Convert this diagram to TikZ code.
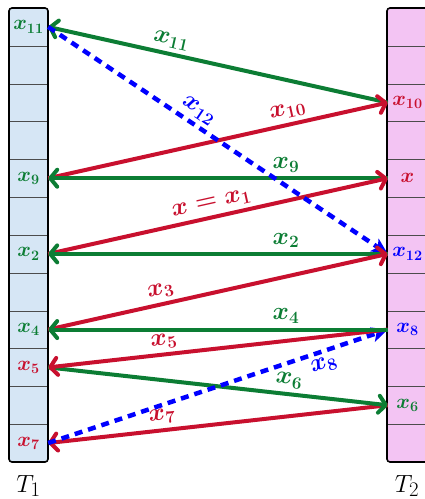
\documentclass[tikz,border=0pt]{standalone}
\usepackage{amsmath}
\usetikzlibrary{arrows.meta}
\definecolor{mygreen}{RGB}{12,125,52}
\definecolor{myred}{RGB}{200,16,46}
\definecolor{myblue}{RGB}{0,0,255}
\definecolor{fillA}{RGB}{214,230,245}
\definecolor{fillB}{RGB}{243,196,243}
\tikzset{
  cellnode/.style={minimum width=39pt,minimum height=37.83pt,inner sep=0pt,font=\fontsize{22}{24}\selectfont\boldmath},
  lbl/.style={font=\fontsize{23}{25}\selectfont\boldmath,inner sep=1pt,sloped},
  garrow/.style={draw=mygreen,line width=4pt,-{Straight Barb[length=7pt,width=17pt,line cap=round,line join=round]}},
  rarrow/.style={draw=myred,line width=4pt,-{Straight Barb[length=7pt,width=17pt,line cap=round,line join=round]}},
  barrow/.style={draw=myblue,line width=4.5pt,dash pattern=on 8pt off 6pt,-{Stealth[length=16pt,width=15pt,inset=4pt]}},
  rowline/.style={draw=black!70,line width=1.1pt},
  boxline/.style={draw=black,line width=1.6pt,rounded corners=3pt},
}
\begin{document}
\begin{tikzpicture}[x=1pt,y=-1pt]
\useasboundingbox (0,0) rectangle (424,499);
% table boxes
\fill[fillA,rounded corners=3pt] (9,8) rectangle (48,462);
\fill[fillB,rounded corners=3pt] (387,8) rectangle (428,462);
\foreach \i in {1,...,11}{
  \pgfmathsetmacro{\yy}{round(8+37.83*\i)+0.5}
  \draw[rowline] (9,\yy) -- (48,\yy);
  \draw[rowline] (387,\yy) -- (428,\yy);
}
\draw[boxline] (9,8) rectangle (48,462);
\draw[boxline] (387,8) rectangle (428,462);
% cells
\foreach \i in {0,...,11}{
  \node[cellnode] (a\i) at (28.5,8+37.83*\i+18.915) {};
  \node[cellnode] (b\i) at (407.5,8+37.83*\i+18.915) {};
}
\node[cellnode,text=mygreen] at (a0) {$x_{11}$};
\node[cellnode,text=mygreen] at (a4) {$x_{9}$};
\node[cellnode,text=mygreen] at (a6) {$x_{2}$};
\node[cellnode,text=mygreen] at (a8) {$x_{4}$};
\node[cellnode,text=myred] at (a9) {$x_{5}$};
\node[cellnode,text=myred] at (a11) {$x_{7}$};
\node[cellnode,text=myred] at (b2) {$x_{10}$};
\node[cellnode,text=myred] at (b4) {$x$};
\node[cellnode,text=myblue] at (b6) {$x_{12}$};
\node[cellnode,text=myblue] at (b8) {$x_{8}$};
\node[cellnode,text=mygreen] at (b10) {$x_{6}$};
% table names
\node[font=\fontsize{28}{30}\selectfont] (t1) at (28.5,486) {$T_1$};
\node[font=\fontsize{28}{30}\selectfont] (t2) at (407,486) {$T_2$};
% arrows
\draw[garrow] (b2.west) -- node[lbl,pos=0.646,above=3pt,text=mygreen] {$x_{11}$} (a0.east);
\draw[rarrow] (a4.east) -- node[lbl,pos=0.714,above=3pt,text=myred] {$x_{10}$} (b2.west);
\draw[garrow] (b4.west) -- node[lbl,pos=0.30,above=3pt,text=mygreen] {$x_{9}$} (a4.east);
\draw[rarrow] (a6.east) -- node[lbl,pos=0.49,above=3pt,text=myred] {$x = x_{1}$} (b4.west);
\draw[barrow] (a0.east) -- node[lbl,pos=0.42,above=3pt,text=myblue] {$x_{12}$} (b6.west);
\draw[garrow] (b6.west) -- node[lbl,pos=0.30,above=3pt,text=mygreen] {$x_{2}$} (a6.east);
\draw[rarrow] (a8.east) -- node[lbl,pos=0.34,above=3pt,text=myred] {$x_{3}$} (b6.west);
\draw[rarrow] (b10.west) -- node[lbl,pos=0.66,above=3pt,text=myred] {$x_{7}$} (a11.east);
\draw[garrow] (a9.east) -- node[lbl,pos=0.705,above=3pt,text=mygreen] {$x_{6}$} (b10.west);
\draw[barrow] (a11.east) -- node[lbl,pos=0.80,below=3pt,text=myblue] {$x_{8}$} (b8.west);
\draw[rarrow] (b8.west) -- node[lbl,pos=0.655,above=3pt,text=myred] {$x_{5}$} (a9.east);
\draw[garrow] (b8.west) -- node[lbl,pos=0.30,above=3pt,text=mygreen] {$x_{4}$} (a8.east);
\end{tikzpicture}
\end{document}
